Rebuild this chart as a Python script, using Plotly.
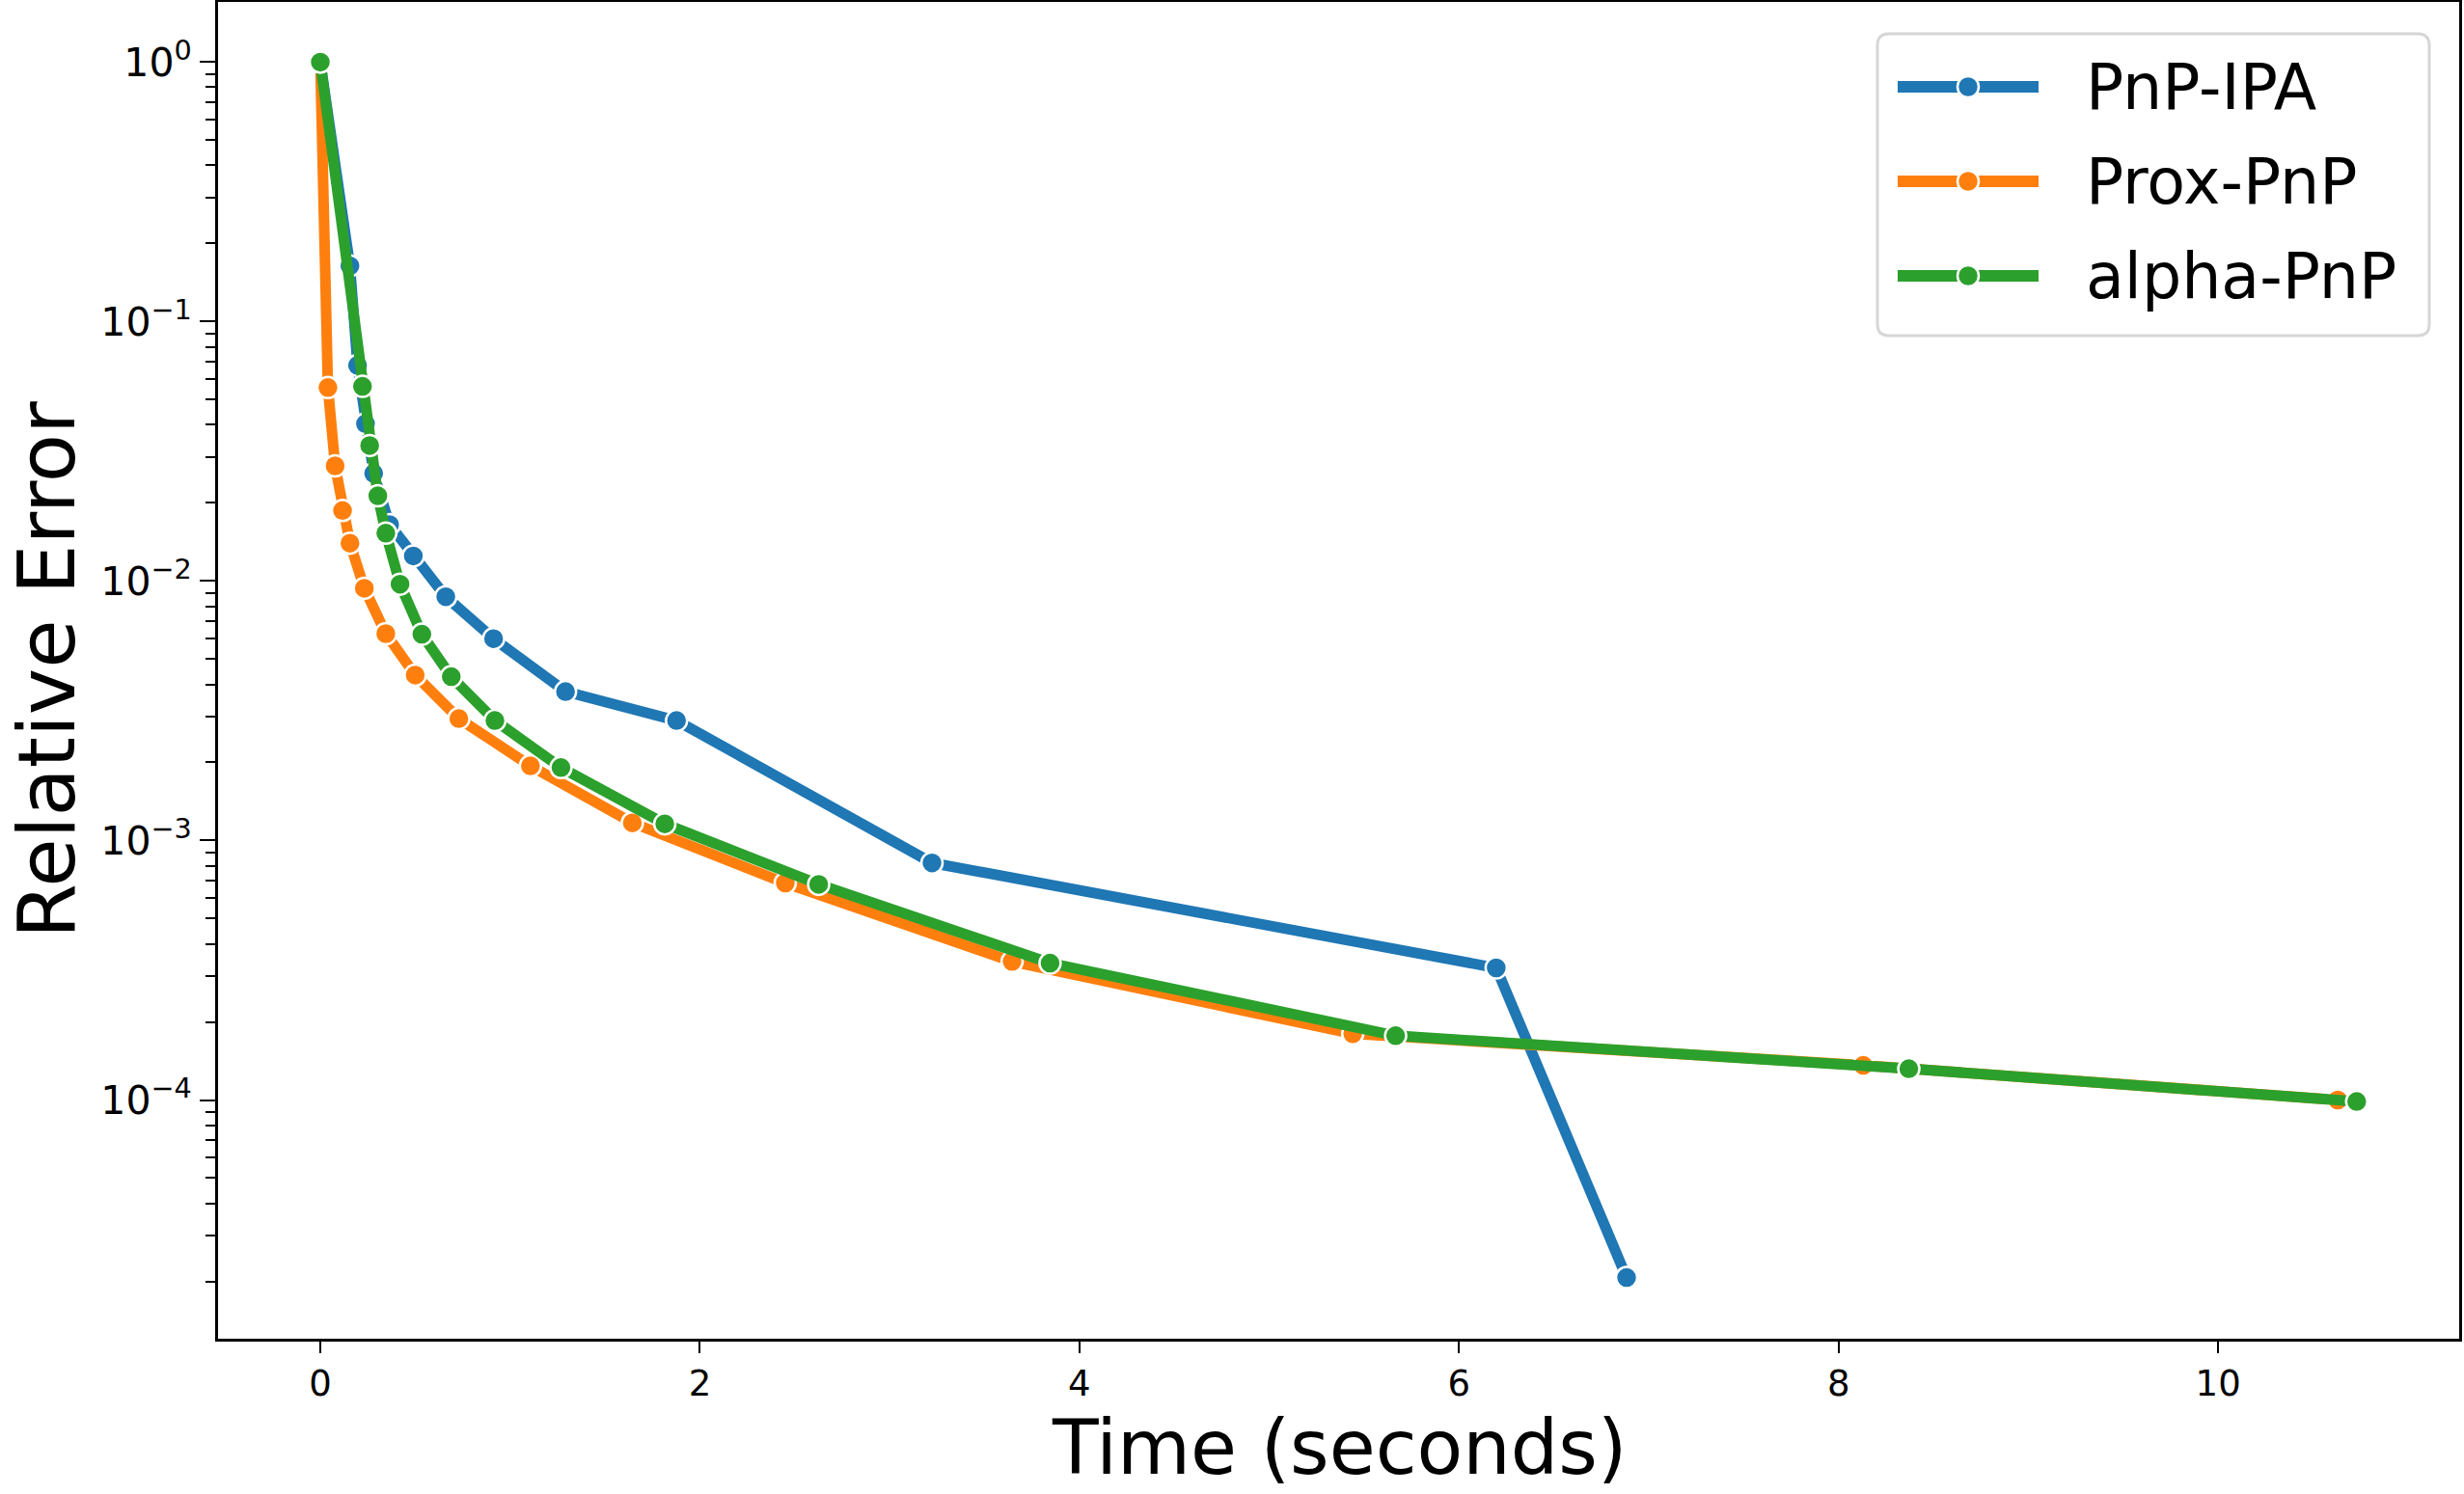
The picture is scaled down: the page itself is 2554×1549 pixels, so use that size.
import plotly.graph_objects as go

# ---------------- data ----------------
ipa_t = [0, 0.156, 0.196, 0.238, 0.281, 0.365, 0.49, 0.661, 0.913, 1.292, 1.877, 3.223, 6.196, 6.883]
ipa_err = [1.0, 0.164, 0.0678, 0.0404, 0.026, 0.0165, 0.0125, 0.0087, 0.0060, 0.00375, 0.0029,
           0.00082, 0.000323, 2.07e-5]

prox_t = [0, 0.04, 0.078, 0.117, 0.156, 0.232, 0.345, 0.50, 0.73, 1.107, 1.644, 2.45, 3.645,
          5.44, 8.13, 10.63]
prox_err = [1.0, 0.0557, 0.0278, 0.0187, 0.0140, 0.00938, 0.00627, 0.00434, 0.00295, 0.00194,
            0.00117, 0.000686, 0.000342, 0.000180, 0.000136, 0.0001]

alpha_t = [0, 0.222, 0.26, 0.303, 0.345, 0.42, 0.535, 0.69, 0.92, 1.268, 1.815, 2.626, 3.845,
           5.666, 8.37, 10.73]
alpha_err = [1.0, 0.0563, 0.0333, 0.0213, 0.0153, 0.00973, 0.00624, 0.00428, 0.0029, 0.00191,
             0.00116, 0.000678, 0.000337, 0.000177, 0.000132, 0.0000987]

series_names = ["PnP-IPA", "Prox-PnP", "alpha-PnP"]
series_colors = ["#1f77b4", "#ff7f0e", "#2ca02c"]

x_title = "Time (seconds)"
y_title = "Relative Error"
x_tickvals = [0, 2, 4, 6, 8, 10]
y_tickvals = [1, 0.1, 0.01, 0.001, 0.0001]
y_ticktext = ["10<sup>0</sup>", "10<sup>\u22121</sup>", "10<sup>\u22122</sup>",
              "10<sup>\u22123</sup>", "10<sup>\u22124</sup>"]

# ---------------- layout constants ----------------
W, H = 2554, 1549
L, R, T, B = 226, 2549, 2, 1388
FONT = "DejaVu Sans"


def px(x):
    return (x - L) / (R - L)


def py(y):
    return 1 - (y - T) / (B - T)


fig = go.Figure()
for t, e, name, col in zip([ipa_t, prox_t, alpha_t], [ipa_err, prox_err, alpha_err],
                           series_names, series_colors):
    fig.add_trace(go.Scatter(
        x=t, y=e, mode="lines+markers", name=name, showlegend=False,
        line=dict(color=col, width=11),
        marker=dict(color=col, size=22, line=dict(color="white", width=2.5)),
    ))

# ---------------- custom legend (matplotlib look) ----------------
shapes = []
annotations = []
bx0, bx1, by0, by1, r = 1946, 2518, 35, 348, 12
path = (
    f"M {px(bx0 + r)},{py(by0)} L {px(bx1 - r)},{py(by0)} "
    f"Q {px(bx1)},{py(by0)} {px(bx1)},{py(by0 + r)} "
    f"L {px(bx1)},{py(by1 - r)} Q {px(bx1)},{py(by1)} {px(bx1 - r)},{py(by1)} "
    f"L {px(bx0 + r)},{py(by1)} Q {px(bx0)},{py(by1)} {px(bx0)},{py(by1 - r)} "
    f"L {px(bx0)},{py(by0 + r)} Q {px(bx0)},{py(by0)} {px(bx0 + r)},{py(by0)} Z"
)
shapes.append(dict(type="path", xref="paper", yref="paper", path=path,
                   fillcolor="rgba(255,255,255,0.8)", line=dict(color="#d6d6d6", width=3)))
rows = [90, 188, 286]
for rowy, name, col in zip(rows, series_names, series_colors):
    shapes.append(dict(type="line", xref="paper", yref="paper",
                       x0=px(1967), x1=px(2113), y0=py(rowy), y1=py(rowy),
                       line=dict(color=col, width=12)))
    shapes.append(dict(type="circle", xref="paper", yref="paper",
                       x0=px(2040 - 11), x1=px(2040 + 11), y0=py(rowy + 11), y1=py(rowy - 11),
                       fillcolor=col, line=dict(color="white", width=2.5)))
    annotations.append(dict(text=name, xref="paper", yref="paper", x=px(2160), y=py(rowy),
                            xanchor="left", yanchor="middle", showarrow=False,
                            font=dict(family=FONT, size=65, color="black")))

# axis titles placed as annotations for exact positioning
annotations.append(dict(text=x_title, xref="paper", yref="paper", x=0.5, y=py(1501),
                        xanchor="center", yanchor="middle", showarrow=False,
                        font=dict(family=FONT, size=78, color="black")))
annotations.append(dict(text=y_title, xref="paper", yref="paper", x=px(48), y=0.5,
                        xanchor="center", yanchor="middle", showarrow=False, textangle=-90,
                        font=dict(family=FONT, size=82, color="black")))

fig.update_layout(
    width=W, height=H,
    margin=dict(l=L, r=W - R, t=T, b=H - B, autoexpand=False),
    paper_bgcolor="white", plot_bgcolor="white",
    font=dict(family=FONT, color="black"),
    shapes=shapes, annotations=annotations,
    xaxis=dict(
        range=[-0.539, 11.27], tickvals=x_tickvals, ticks="outside", ticklen=12, tickwidth=2,
        tickcolor="black", showline=True, mirror=True, linewidth=3, linecolor="black",
        showgrid=False, zeroline=False, tickfont=dict(family=FONT, size=37),
    ),
    yaxis=dict(
        type="log", range=[-4.92, 0.232], tickvals=y_tickvals, ticktext=y_ticktext,
        ticks="outside", ticklen=16, tickwidth=2, tickcolor="black",
        showline=True, mirror=True, linewidth=3, linecolor="black",
        showgrid=False, zeroline=False, tickfont=dict(family=FONT, size=41),
        minor=dict(ticks="outside", ticklen=10, tickwidth=1.5, tickcolor="black",
                   dtick="D1", showgrid=False),
    ),
)

fig.write_html("out.html")
